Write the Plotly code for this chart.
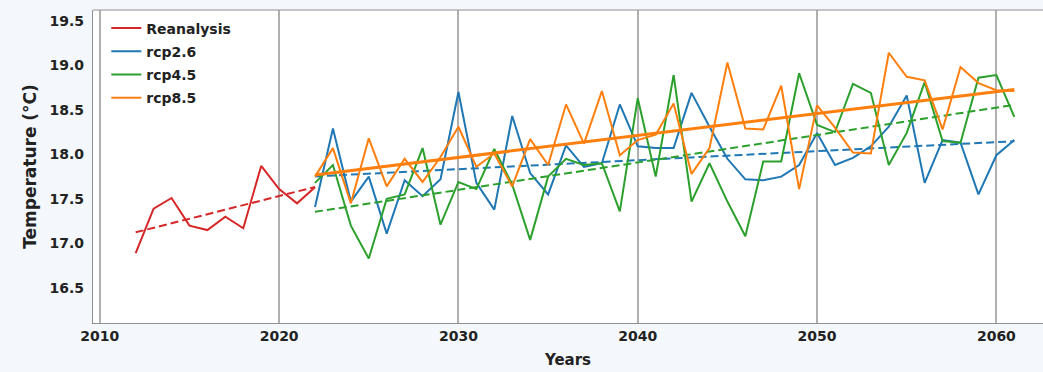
import numpy as np
import plotly.graph_objects as go

# Observed reanalysis series
years_re = list(range(2012, 2023))
reanalysis = [16.89, 17.39, 17.51, 17.20, 17.15, 17.30, 17.17, 17.87, 17.61, 17.45, 17.63]

# Projection years and scenario series
years_rcp = list(range(2022, 2062))
rcp26 = [17.41, 18.29, 17.47, 17.75, 17.11, 17.71, 17.53, 17.72, 18.70, 17.68,
         17.38, 18.43, 17.79, 17.55, 18.10, 17.86, 17.90, 18.56, 18.09, 18.07,
         18.07, 18.69, 18.31, 17.95, 17.72, 17.71, 17.75, 17.88, 18.24, 17.88,
         17.96, 18.09, 18.31, 18.66, 17.68, 18.16, 18.13, 17.55, 17.99, 18.16]
rcp45 = [17.68, 17.88, 17.20, 16.83, 17.50, 17.55, 18.07, 17.21, 17.69, 17.61,
         18.06, 17.66, 17.04, 17.75, 17.95, 17.88, 17.90, 17.36, 18.63, 17.75,
         18.89, 17.47, 17.90, 17.47, 17.08, 17.92, 17.92, 18.91, 18.33, 18.25,
         18.79, 18.69, 17.88, 18.24, 18.81, 18.15, 18.13, 18.86, 18.89, 18.42]
rcp85 = [17.75, 18.07, 17.45, 18.18, 17.64, 17.95, 17.69, 17.97, 18.31, 17.86,
         18.01, 17.64, 18.17, 17.88, 18.56, 18.12, 18.71, 17.99, 18.16, 18.22,
         18.57, 17.78, 18.07, 19.03, 18.29, 18.28, 18.77, 17.61, 18.55, 18.30,
         18.02, 18.01, 19.14, 18.87, 18.83, 18.28, 18.98, 18.80, 18.72, 18.71]

x_ticks = [2010, 2020, 2030, 2040, 2050, 2060]
y_ticks = [16.5, 17.0, 17.5, 18.0, 18.5, 19.0, 19.5]

RED, BLUE, GREEN, ORANGE = "#d62728", "#1f77b4", "#2ca02c", "#ff7f0e"
FONT = "DejaVu Sans"
FRAME = "#8f8f8f"


def trend(x, y):
    x = np.asarray(x, dtype=float)
    slope, intercept = np.polyfit(x, np.asarray(y, dtype=float), 1)
    return x, slope * x + intercept


fig = go.Figure()

series = [
    ("Reanalysis", years_re, reanalysis, RED, dict(dash="8px,4px", width=2)),
    ("rcp2.6", years_rcp, rcp26, BLUE, dict(dash="8px,4px", width=2)),
    ("rcp4.5", years_rcp, rcp45, GREEN, dict(dash="8px,4px", width=2)),
    ("rcp8.5", years_rcp, rcp85, ORANGE, dict(dash="solid", width=3)),
]

for name, xs, ys, color, tstyle in series:
    fig.add_trace(go.Scatter(
        x=xs, y=ys, mode="lines", name=name, legendgroup=name,
        line=dict(color=color, width=2),
    ))
    tx, ty = trend(xs, ys)
    fig.add_trace(go.Scatter(
        x=tx, y=ty, mode="lines", showlegend=False, hoverinfo="skip",
        legendgroup=name, line=dict(color=color, **tstyle),
    ))

axis_font = dict(family=FONT, size=14, color="#222222", weight="bold")
title_font = dict(family=FONT, size=17, color="#222222", weight="bold")

fig.update_layout(
    width=1043, height=372,
    margin=dict(l=93, r=0, t=10, b=49),
    paper_bgcolor="#f4f8fc",
    plot_bgcolor="white",
    font=dict(family=FONT),
    showlegend=True,
    legend=dict(
        x=0.014, y=0.992, xanchor="left", yanchor="top",
        bgcolor="rgba(255,255,255,0)", borderwidth=0,
        font=dict(family=FONT, size=14, color="#222222", weight="bold"),
        tracegroupgap=2, itemwidth=30,
    ),
    # top edge of the axes frame (no right edge is drawn)
    shapes=[dict(type="line", xref="paper", yref="paper", x0=0, x1=1, y0=1, y1=1,
                 line=dict(color=FRAME, width=1.2))],
)

fig.update_xaxes(
    range=[2009.62, 2062.6],
    tickvals=x_ticks, ticktext=[str(v) for v in x_ticks],
    showgrid=True, gridcolor="#b0b0b0", gridwidth=1.5,
    showline=True, linecolor=FRAME, linewidth=1.2, mirror=False,
    ticks="", tickfont=axis_font, zeroline=False,
    title=dict(text="Years", font=dict(family=FONT, size=15, color="#222222", weight="bold"), standoff=11),
)
fig.update_yaxes(
    range=[16.107, 19.62],
    tickvals=y_ticks, ticktext=[f"{v:.1f}" for v in y_ticks],
    showgrid=False,
    showline=True, linecolor=FRAME, linewidth=1.2,
    ticks="", tickfont=axis_font, zeroline=False, ticklabelstandoff=5,
    title=dict(text="Temperature (°C)", font=title_font, standoff=8),
)

fig.write_html("out.html")
